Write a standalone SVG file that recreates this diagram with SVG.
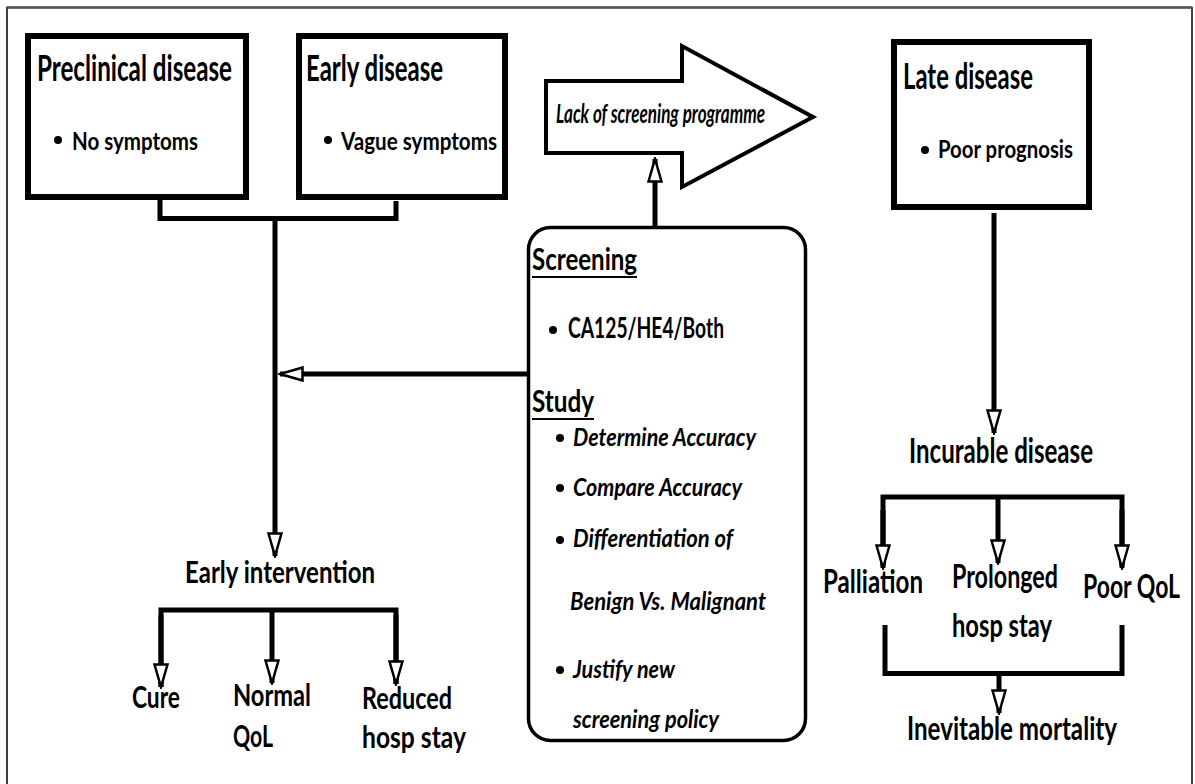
<svg xmlns="http://www.w3.org/2000/svg" width="1195" height="784" viewBox="0 0 1195 784">
<defs>
<style>
.t{font-family:Lato,"Open Sans","Liberation Sans",sans-serif;font-weight:bold;fill:#000}
.i{font-family:Lato,"Open Sans","Liberation Sans",sans-serif;font-weight:bold;font-style:italic;fill:#000}
.box{fill:#fff;stroke:#000;stroke-width:6}
.ln{fill:none;stroke:#000;stroke-width:5;stroke-linejoin:miter}
.ar{fill:none;stroke:#000;stroke-width:5;marker-end:url(#head)}
</style>
<marker id="head" markerUnits="userSpaceOnUse" viewBox="0 0 26 16" markerWidth="26" markerHeight="16" refX="24" refY="8" orient="auto">
<path d="M1.5,1.5 L24,8 L1.5,14.5 Z" fill="#fff" stroke="#000" stroke-width="2.5"/>
</marker>
</defs>
<rect width="1195" height="784" fill="#fff"/>
<path d="M7,784 V7.5 H1192 V784" fill="none" stroke="#000" stroke-width="1.5"/>
<line x1="7" y1="7.5" x2="1192" y2="7.5" stroke="#555" stroke-width="2.5"/>

<g id="connectors">
<path class="ln" d="M160,199 V218.5 H396 V201"/>
<path class="ar" d="M275,218.5 V556"/>
<path class="ar" d="M527,374 H280"/>
<path class="ar" d="M655,226 V159"/>
<path class="ln" d="M161,687 V610 H396 V684"/>
<path class="ar" d="M161,615 V687"/>
<path class="ar" d="M272,610 V683"/>
<path class="ar" d="M396,615 V684"/>
<path class="ar" d="M994,213 V433"/>
<path class="ln" d="M883,566 V497 H1122 V566"/>
<path class="ar" d="M883,510 V568"/>
<path class="ar" d="M998,497 V563"/>
<path class="ar" d="M1122,510 V568"/>
<path class="ln" d="M885,625 V673.5 H1122 V625"/>
<path class="ar" d="M999,673.5 V713"/>
</g>

<g id="preclinical">
<rect class="box" x="28" y="36" width="218" height="161"/>
<text class="t" transform="translate(37,81) scale(0.62,1)" font-size="37" textLength="314.5" lengthAdjust="spacingAndGlyphs">Preclinical disease</text>
<circle cx="58" cy="140" r="4"/>
<text class="t" transform="translate(72,150) scale(0.62,1)" font-size="25" textLength="203.2" lengthAdjust="spacingAndGlyphs">No symptoms</text>
</g>

<g id="early">
<rect class="box" x="299" y="36" width="206" height="161"/>
<text class="t" transform="translate(306,81) scale(0.62,1)" font-size="37" textLength="221" lengthAdjust="spacingAndGlyphs">Early disease</text>
<circle cx="328" cy="140" r="4"/>
<text class="t" transform="translate(341,150) scale(0.62,1)" font-size="25" textLength="251.6" lengthAdjust="spacingAndGlyphs">Vague symptoms</text>
</g>

<g id="lack">
<polygon points="546,81 682,81 682,46 813,117 682,187 682,153 546,153" fill="#fff" stroke="#000" stroke-width="4"/>
<text class="i" transform="translate(556,123) scale(0.62,1)" font-size="26" textLength="337.1" lengthAdjust="spacingAndGlyphs">Lack of screening programme</text>
</g>

<g id="late">
<rect class="box" x="894" y="42" width="195" height="165"/>
<text class="t" transform="translate(903,89) scale(0.62,1)" font-size="37" textLength="209.7" lengthAdjust="spacingAndGlyphs">Late disease</text>
<circle cx="925" cy="150" r="4"/>
<text class="t" transform="translate(938,158) scale(0.62,1)" font-size="25" textLength="217.7" lengthAdjust="spacingAndGlyphs">Poor prognosis</text>
</g>

<g id="screening">
<rect x="528.5" y="227.5" width="277" height="513" rx="22" fill="#fff" stroke="#000" stroke-width="3.5"/>
<text class="t" transform="translate(532,270) scale(0.62,1)" font-size="31" textLength="169.4" lengthAdjust="spacingAndGlyphs">Screening</text>
<line x1="532" y1="277" x2="637" y2="277" stroke="#000" stroke-width="2"/>
<circle cx="553" cy="330" r="4"/>
<text class="t" transform="translate(568,338) scale(0.62,1)" font-size="28" textLength="251.6" lengthAdjust="spacingAndGlyphs">CA125/HE4/Both</text>
<text class="t" transform="translate(532,412) scale(0.62,1)" font-size="31" textLength="100" lengthAdjust="spacingAndGlyphs">Study</text>
<line x1="532" y1="419" x2="594" y2="419" stroke="#000" stroke-width="2"/>
<circle cx="560" cy="438" r="4"/>
<text class="i" transform="translate(573,446) scale(0.62,1)" font-size="25" textLength="295.2" lengthAdjust="spacingAndGlyphs">Determine Accuracy</text>
<circle cx="560" cy="488" r="4"/>
<text class="i" transform="translate(573,496) scale(0.62,1)" font-size="25" textLength="272.6" lengthAdjust="spacingAndGlyphs">Compare Accuracy</text>
<circle cx="560" cy="540" r="4"/>
<text class="i" transform="translate(573,547) scale(0.62,1)" font-size="25" textLength="258.1" lengthAdjust="spacingAndGlyphs">Differentiation of</text>
<text class="i" transform="translate(570,610) scale(0.62,1)" font-size="25" textLength="316.1" lengthAdjust="spacingAndGlyphs">Benign Vs. Malignant</text>
<circle cx="560" cy="670" r="4"/>
<text class="i" transform="translate(573,678) scale(0.62,1)" font-size="25" textLength="164.5" lengthAdjust="spacingAndGlyphs">Justify new</text>
<text class="i" transform="translate(573,728) scale(0.62,1)" font-size="25" textLength="235.5" lengthAdjust="spacingAndGlyphs">screening policy</text>
</g>

<g id="early-intervention">
<text class="t" transform="translate(185,583) scale(0.62,1)" font-size="30" textLength="306.5" lengthAdjust="spacingAndGlyphs">Early intervention</text>
</g>
<g id="cure">
<text class="t" transform="translate(132,708) scale(0.62,1)" font-size="31" textLength="77.4" lengthAdjust="spacingAndGlyphs">Cure</text>
</g>
<g id="normal-qol">
<text class="t" transform="translate(233,706) scale(0.62,1)" font-size="31" textLength="125.8" lengthAdjust="spacingAndGlyphs">Normal</text>
<text class="t" transform="translate(233,747) scale(0.62,1)" font-size="31" textLength="64.5" lengthAdjust="spacingAndGlyphs">QoL</text>
</g>
<g id="reduced">
<text class="t" transform="translate(362,709) scale(0.62,1)" font-size="31" textLength="145.2" lengthAdjust="spacingAndGlyphs">Reduced</text>
<text class="t" transform="translate(362,748) scale(0.62,1)" font-size="31" textLength="167.7" lengthAdjust="spacingAndGlyphs">hosp stay</text>
</g>

<g id="incurable">
<text class="t" transform="translate(909,463) scale(0.62,1)" font-size="34" textLength="296.8" lengthAdjust="spacingAndGlyphs">Incurable disease</text>
</g>
<g id="palliation">
<text class="t" transform="translate(823,593) scale(0.62,1)" font-size="32" textLength="161.3" lengthAdjust="spacingAndGlyphs">Palliation</text>
</g>
<g id="prolonged">
<text class="t" transform="translate(952,588) scale(0.62,1)" font-size="32" textLength="171" lengthAdjust="spacingAndGlyphs">Prolonged</text>
<text class="t" transform="translate(952,637) scale(0.62,1)" font-size="32" textLength="161.3" lengthAdjust="spacingAndGlyphs">hosp stay</text>
</g>
<g id="poor-qol">
<text class="t" transform="translate(1083,598) scale(0.62,1)" font-size="32" textLength="156.5" lengthAdjust="spacingAndGlyphs">Poor QoL</text>
</g>
<g id="mortality">
<text class="t" transform="translate(907,740) scale(0.62,1)" font-size="32" textLength="338.7" lengthAdjust="spacingAndGlyphs">Inevitable mortality</text>
</g>
</svg>
